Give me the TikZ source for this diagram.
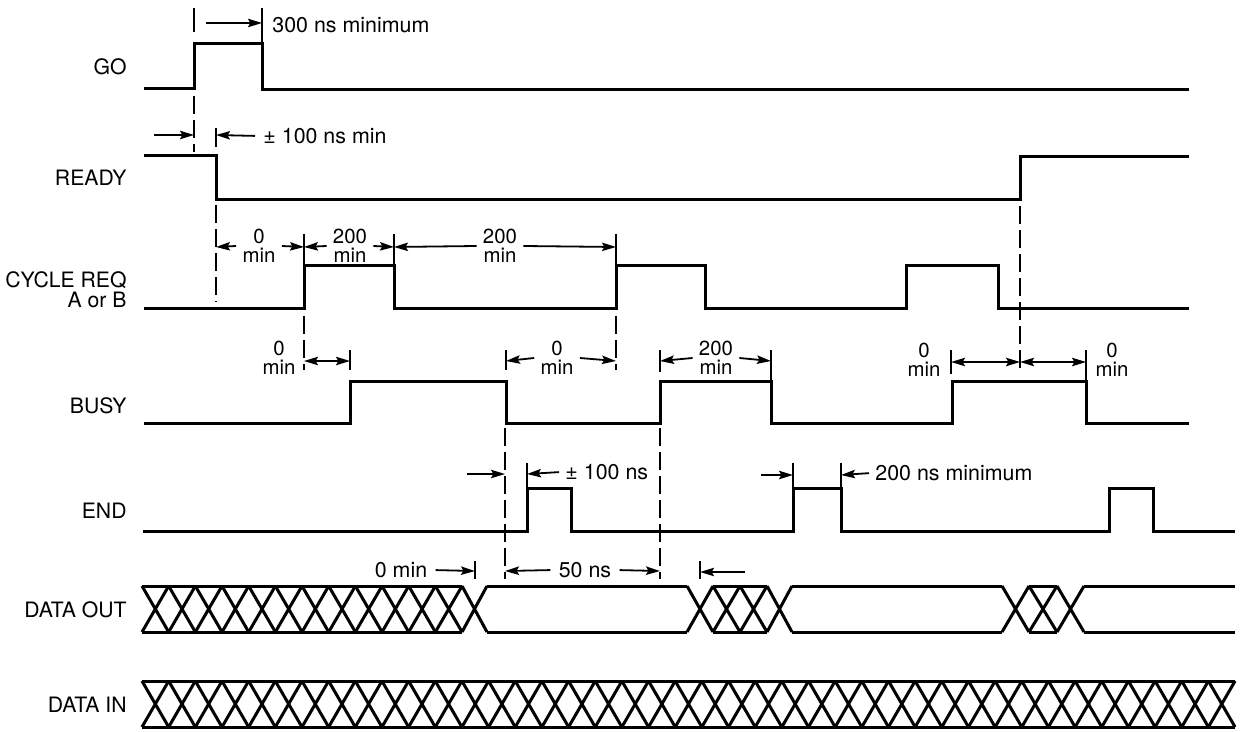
\documentclass[tikz,border=0pt]{standalone}
\usepackage{fontspec}
\setmainfont{TeX Gyre Heros}
\usetikzlibrary{arrows.meta}

\begin{document}
\begin{tikzpicture}[x=0.5pt, y=-0.5pt,
		wave/.style={line width=1.5pt},
		dim/.style={line width=0.9pt, -{Stealth[length=7pt, width=4.2pt, inset=1.2pt]}},
		twodim/.style={line width=0.9pt, {Stealth[length=7pt, width=4.2pt, inset=1.2pt]}-{Stealth[length=7pt, width=4.2pt, inset=1.2pt]}},
		guide/.style={line width=0.9pt, dash pattern=on 9pt off 3pt},
		tickline/.style={line width=0.9pt},
		sig/.style={anchor=east, inner sep=1pt, align=right, font=\fontsize{10.6}{10}\selectfont},
		note/.style={inner sep=2pt, font=\fontsize{10.7}{12}\selectfont},
		twoline/.style={inner sep=3pt, align=center, font=\fontsize{10.2}{9.6}\selectfont}]
		\useasboundingbox (0, 0) rectangle (1240, 732);

		% signal names
		\node [sig] (go) at (129, 67) {GO};
		\node [sig] (ready) at (129, 178) {READY};
		\node [sig] (cyclereq) at (129, 290) {CYCLE REQ\\A or B};
		\node [sig] (busy) at (129, 406) {BUSY};
		\node [sig] (endsig) at (129, 511) {END};
		\node [sig] (dataout) at (129, 610) {DATA OUT};
		\node [sig] (datain) at (129, 705) {DATA IN};

		% waveforms
		\draw [wave] (144, 89) -| (194, 44) -| (262, 90) -- (1189, 90);
		\draw [wave] (144, 156) -| (216, 200) -| (1020, 157) -- (1189, 157);
		\draw [wave] (144, 309) -| (304, 266) -| (394, 309) -| (616, 266) -| (705, 309) -| (906, 266) -| (998, 309) -- (1189, 309);
		\draw [wave] (144, 423) -| (350, 381) -| (506, 423) -| (660, 381) -| (771, 423) -| (952, 381) -| (1086, 423) -- (1189, 423);
		\draw [wave] (143, 531) -| (527, 488) -| (571, 531) -| (793, 488) -| (841, 531) -| (1109, 488) -| (1153, 531) -- (1235, 531);

		% data out
		\foreach \a/\b in {142/462, 487/687, 713/767, 792/1002, 1029/1057, 1084/1235}
			\draw [wave] (\a, 586) to (\b, 586) (\a, 632) to (\b, 632);
		\foreach \i in {0,...,11}
			\draw [wave] ({142+\i*26.67}, 586) to ({142+(\i+1)*26.67}, 632)
				({142+\i*26.67}, 632) to ({142+(\i+1)*26.67}, 586);
		\foreach \a/\b in {462/487, 687/713, 713/740, 740/767, 767/792, 1002/1029, 1029/1057, 1057/1084}
			\draw [wave] (\a, 586) to (\b, 632) (\a, 632) to (\b, 586);

		% data in
		\draw [wave] (142, 681) to (1235, 681) (142, 727) to (1235, 727);
		\foreach \i in {0,...,40}
			\draw [wave] ({142+\i*26.66}, 681) to ({142+(\i+1)*26.66}, 727)
				({142+\i*26.66}, 727) to ({142+(\i+1)*26.66}, 681);

		% dashed guides
		\draw [guide] (194, 96) to (194, 152);
		\draw [guide] (216, 205) to (216, 302);
		\draw [guide] (304, 316) to (304, 370);
		\draw [guide] (616, 316) to (616, 370);
		\draw [guide] (1020, 206) to (1020, 372);
		\draw [guide] (505, 428) to (505, 579);
		\draw [guide] (660, 428) to (660, 579);

		% ticks
		\draw [tickline] (194, 8) to (194, 32);
		\draw [tickline] (262, 8) to (262, 44);
		\draw [tickline] (216, 128) to (216, 147);
		\foreach \x in {304, 394, 616}
			\draw [tickline] (\x, 234) to (\x, 266);
		\foreach \x/\y in {350/370, 506/370, 660/372, 771/381, 951/374, 1086/381}
			\draw [tickline] (\x, 350) to (\x, \y);
		\foreach \x in {527, 793, 841}
			\draw [tickline] (\x, 463) to (\x, 488);
		\foreach \x in {475, 700}
			\draw [tickline] (\x, 561) to (\x, 579);

		% arrow ends
		\node (g1) at (194, 23) {}; %go rise
		\node (g2) at (262, 23) {}; %go fall
		\node (r0) at (154, 135) {};
		\node (r1) at (194, 135) {};
		\node (r2) at (216, 135) {}; %ready fall
		\node (c1) at (216, 247) {};
		\node (c2) at (304, 247) {};
		\node (c3) at (394, 247) {};
		\node (c4) at (616, 247) {};
		\node (b1) at (304, 361) {};
		\node (b2) at (350, 361) {};
		\node (b3) at (506, 361) {};
		\node (b4) at (616, 361) {};
		\node (b5) at (660, 361) {};
		\node (b6) at (771, 361) {};
		\node (b7) at (951, 362) {};
		\node (b8) at (1020, 362) {}; %ready rise
		\node (b9) at (1086, 362) {};
		\node (e0) at (467, 474) {};
		\node (e1) at (505, 474) {};
		\node (e2) at (527, 474) {};
		\node (e3) at (761, 475) {};
		\node (e4) at (793, 475) {};
		\node (e5) at (841, 475) {};
		\node (d1) at (475, 571) {};
		\node (d2) at (505, 571) {};
		\node (d3) at (660, 571) {};
		\node (d4) at (700, 572) {};
		\node (d5) at (745, 572) {};

		% timing labels
		\node [note, anchor=west] (t300) at (268, 25) {300 ns minimum};
		\node [note, anchor=west] (t100a) at (259, 136) {± 100 ns min};
		\node [twoline] (tc1) at (259, 246) {0\\min};
		\node [twoline] (tc2) at (350, 246) {200\\min};
		\node [twoline] (tc3) at (500, 246) {200\\min};
		\node [twoline] (tb1) at (279, 358) {0\\min};
		\node [twoline] (tb2) at (557, 358) {0\\min};
		\node [twoline] (tb3) at (716, 358) {200\\min};
		\node [twoline] (tb4) at (924, 360) {0\\min};
		\node [twoline] (tb5) at (1112, 360) {0\\min};
		\node [note, anchor=west] (t100b) at (561, 472) {± 100 ns};
		\node [note, anchor=west] (t200) at (871, 473) {200 ns minimum};
		\node [note] (t0min) at (401, 570) {0 min};
		\node [note] (t50) at (585, 570) {50 ns};

		% dimension arrows
		\draw [dim, shorten <=6pt] (g1.center) to (g2.center);
		\draw [dim] (r0.center) to (r1.center);
		\draw [dim, shorten <=2pt] (t100a.west) to (r2.center);
		\draw [dim] (tc1.west) to (c1.center);
		\draw [dim] (tc1.east) to (c2.center);
		\draw [dim] (tc2.west) to (c2.center);
		\draw [dim] (tc2.east) to (c3.center);
		\draw [dim] (tc3.west) to (c3.center);
		\draw [dim] (tc3.east) to (c4.center);
		\draw [twodim] (b1.center) to (b2.center);
		\draw [dim] (tb2.west) to (b3.center);
		\draw [dim] (tb2.east) to (b4.center);
		\draw [dim] (tb3.west) to (b5.center);
		\draw [dim] (tb3.east) to (b6.center);
		\draw [twodim] (b7.center) to (b8.center);
		\draw [twodim] (b8.center) to (b9.center);
		\draw [dim] (e0.center) to (e1.center);
		\draw [dim, shorten <=1pt] (t100b.west) to (e2.center);
		\draw [dim] (e3.center) to (e4.center);
		\draw [dim, shorten <=1pt] (t200.west) to (e5.center);
		\draw [dim, shorten <=2pt] (t0min.east) to (d1.center);
		\draw [dim, shorten <=2pt] (t50.west) to (d2.center);
		\draw [dim, shorten <=2pt] (t50.east) to (d3.center);
		\draw [dim] (d5.center) to (d4.center);
\end{tikzpicture}
\end{document}
